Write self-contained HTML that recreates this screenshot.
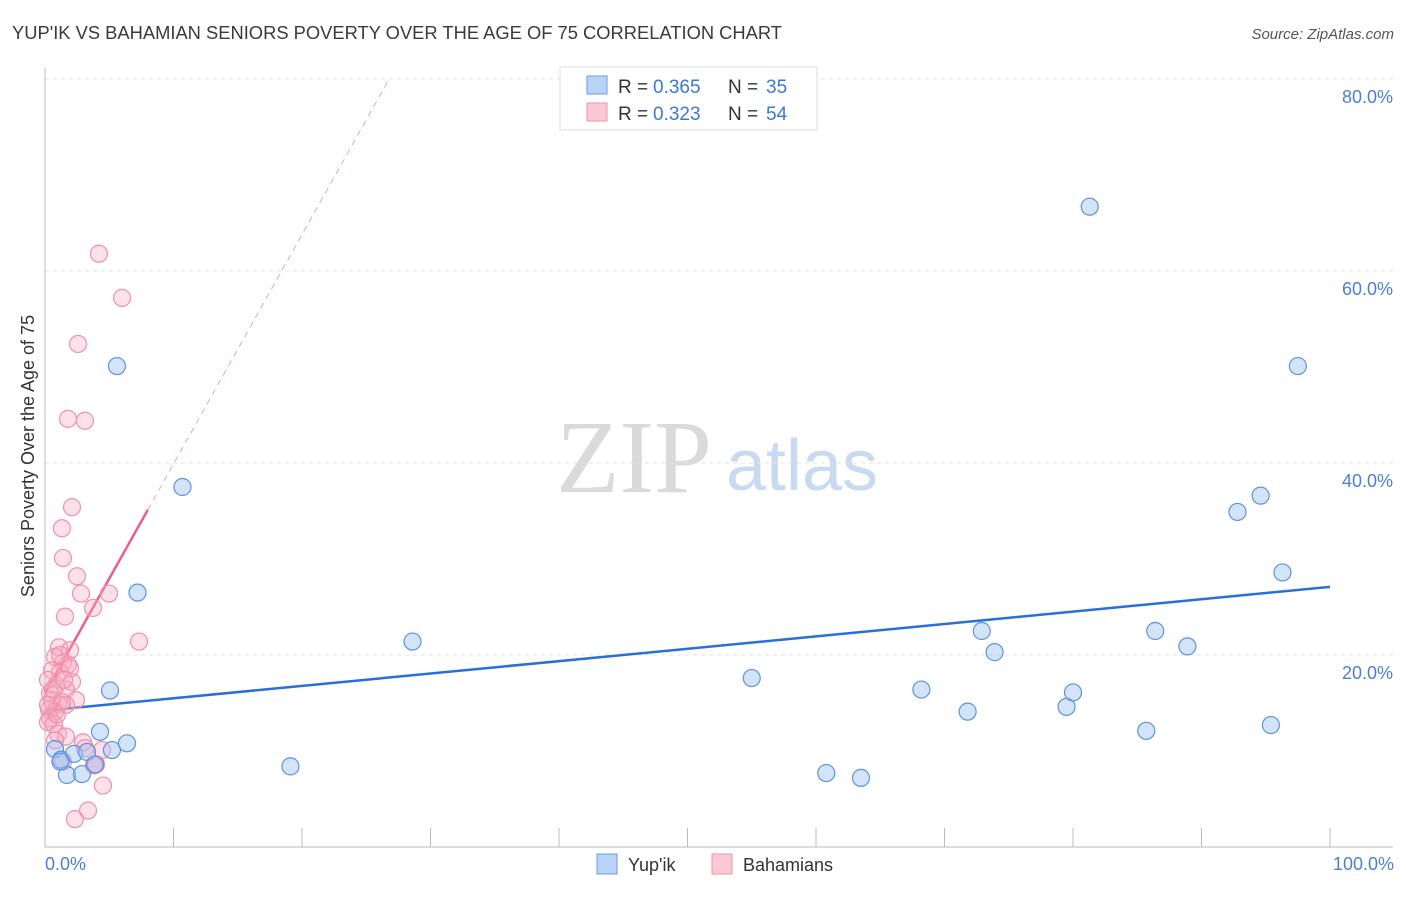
<!DOCTYPE html>
<html><head><meta charset="utf-8"><style>
body{margin:0;background:#fff;font-family:"Liberation Sans",sans-serif;}
</style></head><body>
<svg width="1406" height="892" viewBox="0 0 1406 892" font-family="Liberation Sans, sans-serif">
<text x="12" y="39" font-size="18" fill="#3a3a3a" textLength="770" lengthAdjust="spacingAndGlyphs">YUP'IK VS BAHAMIAN SENIORS POVERTY OVER THE AGE OF 75 CORRELATION CHART</text>
<text x="1394" y="39" font-size="15" fill="#555" font-style="italic" text-anchor="end">Source: ZipAtlas.com</text>
<g>
<text x="634" y="492" font-size="104" fill="#dadada" style="font-family:'Liberation Serif',serif" text-anchor="middle">ZIP</text>
<text x="802" y="490" font-size="72" fill="#c8daf0" text-anchor="middle">atlas</text>
</g>
<g id="grid"></g>
<g id="axes"></g>
<g id="trend"></g>
<g id="points"></g>
<text x="34" y="456" font-size="18" fill="#333" text-anchor="middle" transform="rotate(-90 34 456)">Seniors Poverty Over the Age of 75</text>
<text x="45" y="870" font-size="18" fill="#4a7fd4">0.0%</text>
<text x="1394" y="870" font-size="18" fill="#4a7fd4" text-anchor="end">100.0%</text>
<g>
<rect x="560" y="67" width="257" height="63" fill="#fff" stroke="#ddd"/>
<rect x="587" y="76" width="20" height="18" fill="#b8d3f5" stroke="#6a9ee0"/>
<rect x="587" y="103" width="20" height="18" fill="#fbc8d6" stroke="#f090ac"/>
<text x="618" y="93" font-size="19" fill="#333">R =</text>
<text x="653" y="93" font-size="19" fill="#3a78d8">0.365</text>
<text x="728" y="93" font-size="19" fill="#333">N =</text>
<text x="766" y="93" font-size="19" fill="#3a78d8">35</text>
<text x="618" y="120" font-size="19" fill="#333">R =</text>
<text x="653" y="120" font-size="19" fill="#3a78d8">0.323</text>
<text x="728" y="120" font-size="19" fill="#333">N =</text>
<text x="766" y="120" font-size="19" fill="#3a78d8">54</text>
</g>
<g>
<rect x="597" y="854" width="20" height="20" fill="#b8d3f5" stroke="#6a9ee0"/>
<text x="628" y="871" font-size="18" fill="#333">Yup'ik</text>
<rect x="712" y="854" width="20" height="20" fill="#fbc8d6" stroke="#f090ac"/>
<text x="743" y="871" font-size="18" fill="#333">Bahamians</text>
</g>
</svg>
<script>
const yTicks=[20,40,60,80];
const yupikX=[0.78,1.25,1.71,2.26,2.88,3.27,3.89,4.28,5.21,6.38,5.06,5.6,7.2,10.7,19.1,28.6,55.0,60.8,63.5,68.2,71.8,72.9,73.9,79.5,80.0,81.3,85.7,86.4,88.9,92.8,94.6,95.4,96.3,97.5,1.2];
const yupikY=[10.2,9.1,7.5,9.7,7.6,9.9,8.6,12.0,10.1,10.8,16.3,50.1,26.5,37.5,8.4,21.4,17.6,7.7,7.2,16.4,14.1,22.5,20.3,14.6,16.1,66.7,12.1,22.5,20.9,34.9,36.6,12.7,28.6,50.1,8.9];
const bahX=[4.2,6.0,2.57,1.79,3.11,2.1,1.32,1.4,2.49,2.8,4.98,3.74,1.56,7.32,1.09,1.95,0.78,1.4,1.79,0.54,1.17,2.1,0.86,1.63,0.39,2.41,1.01,1.63,0.31,0.78,0.39,0.23,0.7,1.01,1.63,2.96,4.44,1.4,3.81,4.51,2.33,3.35,0.93,0.54,0.23,1.95,1.32,0.62,1.17,3.97,0.23,0.78,1.48,3.11];
const bahY=[61.8,57.2,52.4,44.6,44.4,35.4,33.2,30.1,28.2,26.4,26.4,24.9,24.0,21.4,20.8,20.5,19.8,19.2,19.0,18.4,18.2,17.2,16.8,16.4,16.0,15.3,14.9,14.8,14.3,14.1,13.4,13.0,12.8,11.8,11.5,10.9,10.1,8.9,8.5,6.4,2.9,3.8,13.8,15.3,17.4,18.6,15.1,16.4,20.0,8.6,14.8,11.1,17.4,10.3];
const yupikTrend=[14.2,27.1];
const bahTrend=[16.0,2.39];
const X=v=>45+v*12.85, Y=v=>847-v*9.6;
const NS="http://www.w3.org/2000/svg";
function mk(t,a,p){const e=document.createElementNS(NS,t);for(const k in a)e.setAttribute(k,a[k]);p.appendChild(e);return e;}
const grid=document.getElementById('grid');
yTicks.forEach(t=>{
 const l=mk('line',{x1:45,x2:1393,y1:Y(t),y2:Y(t),stroke:'#e2e2e2','stroke-dasharray':'4 4'},grid);
 
 
 const tx=mk('text',{x:1393,y:Y(t)+24,'font-size':18,fill:'#4a7fd4','text-anchor':'end'},grid);
 tx.textContent=t.toFixed(1)+'%';
 
 
});
const axes=document.getElementById('axes');
const ya=mk('line',{x1:45,x2:45,y1:68,y2:847,stroke:'#bbb'},axes);


const xa=mk('line',{x1:45,x2:1393,y1:847,y2:847,stroke:'#bbb'},axes);


for(let i=1;i<=10;i++){const tk=mk('line',{x1:X(i*10),x2:X(i*10),y1:828,y2:847,stroke:'#bbb'},axes);
 
 }
const tr=document.getElementById('trend');
const bl=mk('line',{x1:X(0),y1:Y(yupikTrend[0]),x2:X(100),y2:Y(yupikTrend[1]),stroke:'#2a6fd6','stroke-width':2.5},tr);


const xe=(80-bahTrend[0])/bahTrend[1];
const pd=mk('line',{x1:X(8),y1:Y(bahTrend[0]+bahTrend[1]*8),x2:X(xe),y2:Y(80),stroke:'#f0a0b8','stroke-width':1,'stroke-dasharray':'6 5'},tr);


const ps=mk('line',{x1:X(0),y1:Y(bahTrend[0]),x2:X(8),y2:Y(bahTrend[0]+bahTrend[1]*8),stroke:'#e8608a','stroke-width':2.5},tr);


const pts=document.getElementById('points');
bahX.forEach((x,i)=>{const c=mk('circle',{cx:X(x),cy:Y(bahY[i]),r:8.5,fill:'rgba(246,170,192,0.35)',stroke:'#f090ac','stroke-width':1.2},pts);
 
 });
yupikX.forEach((x,i)=>{const c=mk('circle',{cx:X(x),cy:Y(yupikY[i]),r:8.5,fill:'rgba(160,196,240,0.45)',stroke:'#5b93de','stroke-width':1.2},pts);
 
 });
</script>
</body></html>
